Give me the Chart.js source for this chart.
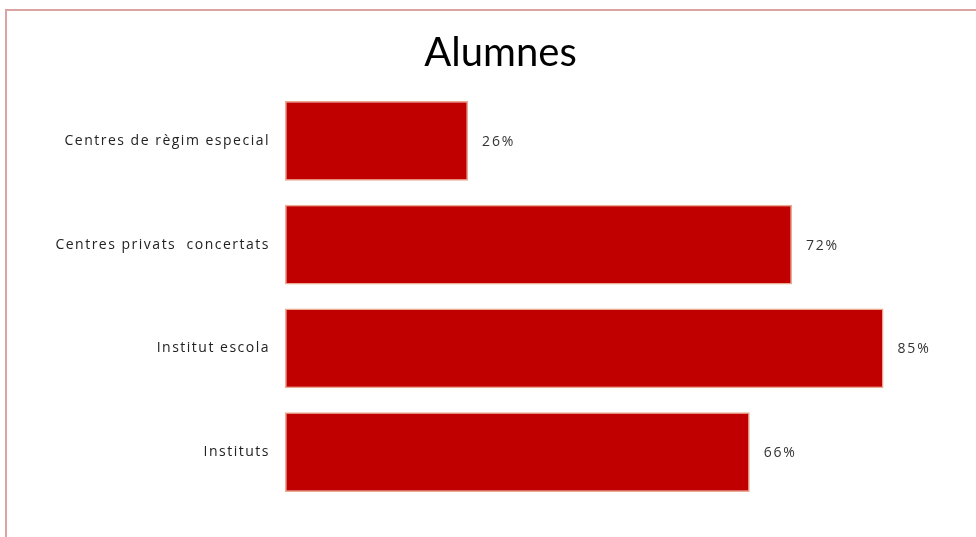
<!DOCTYPE html>
<html>
<head>
<meta charset="utf-8">
<script src="https://cdn.jsdelivr.net/npm/chart.js@4.4.0/dist/chart.umd.min.js"></script>
<style>
  html, body { margin: 0; padding: 0; background: #fff; overflow: hidden; }
  #frame {
    position: absolute; left: 5px; top: 9px; right: 0; bottom: 0;
    border-left: 2px solid #dba3a3; border-top: 2px solid #dba3a3;
  }
  #wrap { position: absolute; left: 0; top: 0; width: 976px; height: 537px; }
</style>
</head>
<body>
<div id="frame"></div>
<div id="wrap"><canvas id="chart"></canvas></div>
<script>
// Chart data
const categories = ['Centres de règim especial', 'Centres privats  concertats', 'Institut escola', 'Instituts'];
const values = [26, 72, 85, 66];
const valueLabels = ['26%', '72%', '85%', '66%'];

// Draws the percentage after each bar, then spaces out the y tick labels
// (the y tick labels are drawn after the datasets, see ticks.z below)
const barLabels = {
  id: 'barLabels',
  afterDatasetsDraw(chart) {
    const ctx = chart.ctx;
    const meta = chart.getDatasetMeta(0);
    ctx.save();
    ctx.font = '14px "Open Sans"';
    ctx.letterSpacing = '1.8px';
    ctx.fillStyle = '#333';
    ctx.textAlign = 'left';
    ctx.textBaseline = 'middle';
    meta.data.forEach((bar, i) => {
      ctx.fillText(valueLabels[i], bar.x + 14, bar.y + 1);
    });
    ctx.restore();
    ctx.letterSpacing = '1.5px';
  },
  afterDraw(chart) {
    chart.ctx.letterSpacing = '0px';
  }
};

const ctx = document.getElementById('chart').getContext('2d');
new Chart(ctx, {
  type: 'bar',
  data: {
    labels: categories,
    datasets: [{
      data: values,
      backgroundColor: '#c00000',
      borderColor: '#eba98f',
      borderWidth: 1.5,
      borderSkipped: false,
      categoryPercentage: 0.77,
      barPercentage: 1
    }]
  },
  options: {
    indexAxis: 'y',
    responsive: true,
    maintainAspectRatio: false,
    animation: false,
    layout: { padding: { top: 0, bottom: 33, left: 40, right: 15 } },
    plugins: {
      legend: { display: false },
      tooltip: { enabled: false },
      title: {
        display: true,
        text: 'Alumnes',
        color: '#000',
        font: { family: 'Lato', size: 40, weight: 'normal', lineHeight: 1.0 },
        padding: { top: 33, bottom: 16 }
      }
    },
    scales: {
      x: { display: false, min: 0, max: 96 },
      y: {
        grid: { display: false },
        border: { display: false },
        ticks: {
          z: 1,
          color: '#222',
          padding: 7,
          font: { family: 'Open Sans', size: 14 }
        },
        afterFit(scale) { scale.width = 245; }
      }
    }
  },
  plugins: [barLabels]
});
</script>
</body>
</html>
